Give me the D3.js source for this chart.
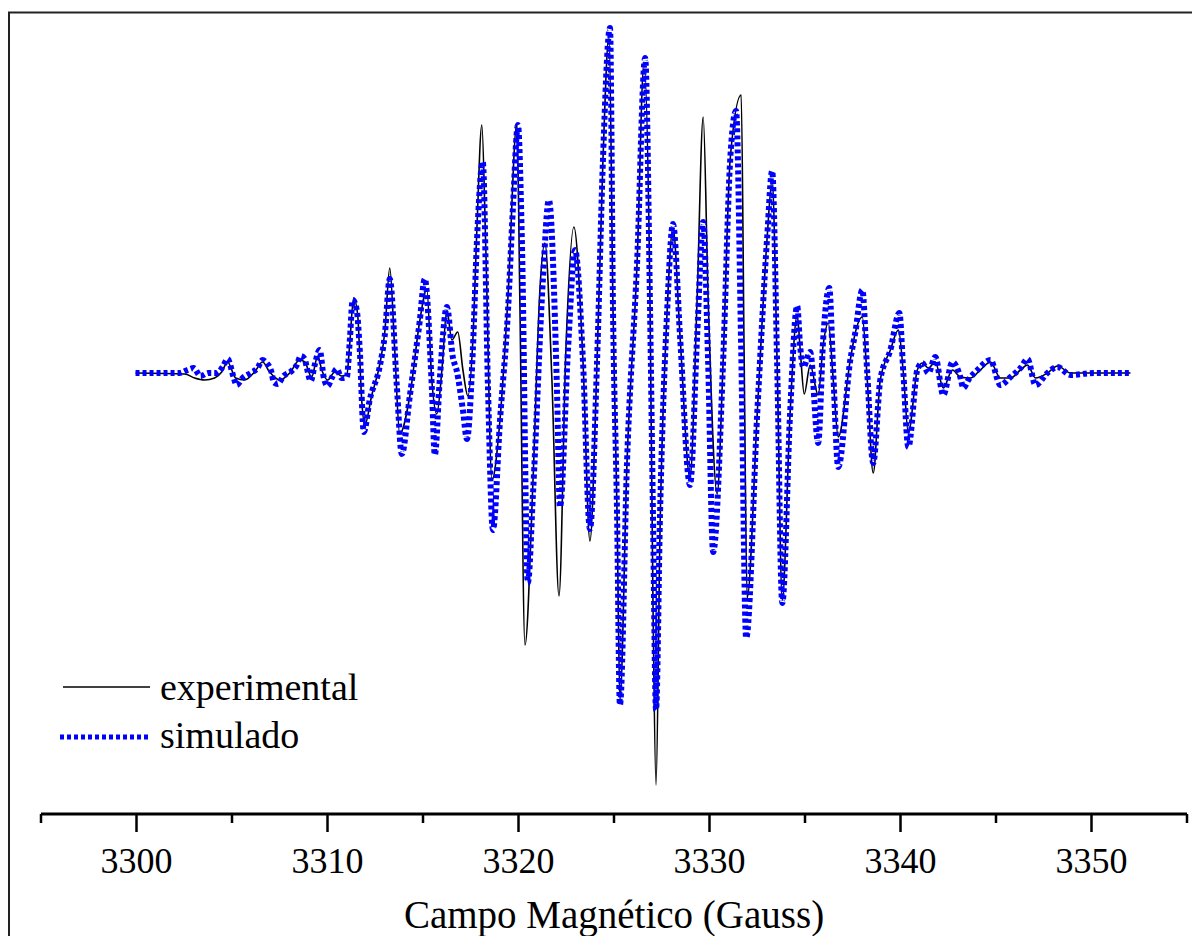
<!DOCTYPE html>
<html>
<head>
<meta charset="utf-8">
<script src="https://cdn.jsdelivr.net/npm/d3@7"></script>
<style>
  body { margin: 0; background: #fff; }
  svg { display: block; }
  text { font-family: "Liberation Serif", "Times New Roman", serif; fill: #000; }
</style>
</head>
<body>
<svg width="1192" height="936"></svg>
<script>
const svg = d3.select("svg");
const width = 1192;
const height = 936;

// field offsets from 3300 G, intensity in arbitrary units
const expField = [-0.05, 2.52, 3.04, 3.56, 4.09, 4.46, 4.77, 5.19, 5.66, 6.18, 6.60, 6.97, 7.50, 8.02, 8.54, 8.81,
    9.17, 9.49, 9.70, 10.01, 10.38, 10.74, 11.01, 11.16, 11.37, 11.58, 11.79, 11.95, 12.32, 12.74, 13.00, 13.26,
    13.52, 13.78, 14.31, 14.83, 15.20, 15.46, 15.72, 15.99, 16.25, 16.51, 16.82, 17.09, 17.35, 17.61, 17.82, 18.08,
    18.29, 18.61, 19.03, 19.44, 19.92, 20.07, 20.34, 20.76, 21.12, 21.38, 21.75, 22.12, 22.48, 22.90, 23.38, 23.74,
    24.11, 24.42, 24.74, 24.95, 25.16, 25.31, 25.68, 26.21, 26.57, 26.89, 27.04, 27.20, 27.41, 27.78, 28.09, 28.46,
    28.98, 29.35, 29.67, 29.93, 30.40, 30.71, 31.08, 31.66, 31.81, 31.97, 32.50, 33.02, 33.28, 33.54, 33.81, 34.22,
    34.59, 34.75, 34.96, 35.27, 35.69, 35.95, 36.22, 36.48, 36.74, 37.37, 37.63, 38.00, 38.26, 38.57, 38.94, 39.47,
    39.89, 40.15, 40.41, 40.88, 41.14, 41.46, 41.82, 42.24, 42.72, 43.13, 43.66, 44.18, 44.71, 45.23, 45.76, 46.28,
    46.65, 47.07, 47.69, 48.22, 48.90, 50.11, 52.04];
const expIntensity = [0, -0.1, -0.5, -0.7, -0.5, 0.1, 1.1, -0.5, -0.7, 0.1, 1.1, 0.1, -0.7, 0, 1.3, 1.1,
    -0.4, 1.7, 0.3, -0.7, 0.1, -0.3, -0.2, 2.8, 7.5, 5.8, -2.7, -5.2, -2.2, 0.9, 4.1, 10.5,
    2.3, -6.1, -2.3, 5.2, 8.4, -0.7, -4.1, 0.3, 6.3, 3.3, 4.1, 0.3, -2.3, 3.3, 14.3, 24.8,
    12.3, -10.7, -4.7, 7.3, 25.0, 7.3, -27.2, -10.7, 8.3, 13.0, -0.7, -22.3, 2.3, 14.6, 1.0, -16.8,
    1.0, 21.2, 33.8, 6.1, -14.1, -32.7, -9.0, 11.1, 31.1, 6.1, -22.7, -41.2, -15.7, 6.1, 14.5, 3.6,
    -10.5, 7.3, 25.6, 7.3, -12.1, 1.0, 21.3, 27.8, 2.3, -22.5, -4.0, 13.6, 19.3, 1.0, -22.7, -4.0,
    5.8, 2.3, -2.1, 0.8, -2.2, 2.8, 5.0, -0.7, -6.4, 1.3, 4.0, 5.6, -0.7, -10.0, -0.7, 2.3,
    4.3, 0, -6.0, 0.3, 1.0, 0.5, 1.1, -1.5, 0.3, -0.4, -0.5, 0.3, 1.1, -0.5, -0.5, 0.3,
    0.8, -0.5, 0, 0.7, 0, 0, 0];

const simField = [-0.05, 2.25, 2.67, 2.99, 3.35, 3.77, 4.19, 4.51, 4.77, 5.08, 5.24, 5.56, 5.98, 6.34, 6.60, 6.81,
    7.08, 7.18, 7.39, 7.70, 8.12, 8.39, 8.60, 8.81, 8.91, 9.12, 9.33, 9.59, 9.80, 10.01, 10.22, 10.48,
    10.74, 11.01, 11.16, 11.32, 11.53, 11.69, 11.90, 12.21, 12.74, 13.00, 13.26, 13.63, 13.89, 14.31, 14.83, 15.09,
    15.46, 15.62, 15.88, 16.25, 16.56, 16.77, 17.09, 17.30, 17.61, 17.82, 18.13, 18.40, 18.66, 19.03, 19.44, 19.71,
    19.97, 20.18, 20.49, 20.76, 21.28, 21.59, 22.01, 22.17, 22.59, 22.96, 23.38, 23.74, 24.11, 24.42, 24.79, 24.95,
    25.16, 25.31, 25.68, 26.21, 26.63, 26.89, 27.04, 27.20, 27.41, 27.78, 28.09, 28.46, 28.98, 29.35, 29.67, 29.93,
    30.19, 30.71, 31.08, 31.39, 31.66, 31.92, 32.50, 33.02, 33.28, 33.54, 33.81, 34.22, 34.59, 34.75, 34.91, 35.27,
    35.69, 35.95, 36.27, 36.48, 36.74, 37.37, 37.63, 38.00, 38.26, 38.57, 38.94, 39.47, 39.94, 40.15, 40.41, 40.88,
    41.14, 41.46, 41.82, 42.24, 42.72, 43.13, 43.29, 43.55, 44.03, 44.71, 45.23, 45.76, 46.28, 46.65, 47.07, 47.69,
    48.22, 48.90, 50.11, 52.04];
const simIntensity = [0, 0, 0.3, 0.5, -0.3, 0, 0, 0.6, 1.4, -0.4, -1.2, -0.5, 0, 0.5, 1.3, 1.0,
    0, -0.9, -1.1, -0.3, 0.2, 0.8, 1.7, 1.4, 0.6, -0.8, 0.8, 2.3, -0.4, -1.3, -0.5, 0.4,
    -0.5, -0.4, 3.0, 7.3, 6.3, 2.3, -5.9, -2.7, 0.7, 3.8, 9.4, -1.3, -8.1, -2.3, 5.2, 9.4,
    -1.3, -8.2, -0.6, 6.6, 1.6, 0.2, -3.7, -6.6, 2.3, 13.0, 21.1, -1.3, -15.7, -4.8, 5.9, 16.6,
    24.8, 13.0, -21.0, -12.0, 9.4, 17.3, -1.3, -13.4, 2.3, 12.3, 1.0, -15.6, 1.0, 21.2, 34.5, 6.1,
    -14.1, -33.2, -9.0, 11.1, 31.5, 6.1, -14.1, -33.7, -14.1, 6.1, 14.9, 3.6, -11.2, 3.6, 15.1, 1.0,
    -17.9, 1.0, 21.2, 26.2, 2.3, -26.5, -4.0, 13.6, 20.2, 1.0, -23.0, -4.0, 6.7, 2.6, 0.6, 2.1,
    -7.0, 3.3, 8.5, 0, -9.4, 1.3, 4.0, 8.3, 0, -9.0, -0.7, 2.3, 6.0, 0, -7.4, 0.3,
    1.0, 0, 1.6, -2.2, 1.1, -0.4, -1.5, -0.7, 0.3, 1.3, -1.2, -0.4, 0.5, 1.4, -1.2, 0,
    0.6, -0.2, 0, 0];

const majorTicks = [3300, 3310, 3320, 3330, 3340, 3350];
const minorTicks = [3295, 3305, 3315, 3325, 3335, 3345, 3355];

const x = d3.scaleLinear().domain([3295, 3355]).range([41, 1187]);
const y = d3.scaleLinear().domain([-42, 36]).range([793, 13]);

const expData = expField.map((f, i) => ({ b: 3300 + f, v: expIntensity[i] }));
const simData = simField.map((f, i) => ({ b: 3300 + f, v: simIntensity[i] }));

const line = d3.line()
    .x(d => x(d.b))
    .y(d => y(d.v))
    .curve(d3.curveMonotoneX);

// outer frame (top and left edges only)
svg.append("path")
    .attr("d", "M9,936V12.5H1192")
    .attr("fill", "none")
    .attr("stroke", "#222")
    .attr("stroke-width", 2);

// experimental
svg.append("path")
    .datum(expData)
    .attr("d", line)
    .attr("fill", "none")
    .attr("stroke", "#000")
    .attr("stroke-width", 1.6);

// simulado
svg.append("path")
    .datum(simData)
    .attr("d", line)
    .attr("fill", "none")
    .attr("stroke", "#0000ff")
    .attr("stroke-width", 6)
    .attr("stroke-dasharray", "4,3");

// x axis
const axisY = 814;
const gx = svg.append("g").attr("transform", "translate(0," + axisY + ")");
gx.append("line")
    .attr("x1", x(3295)).attr("x2", x(3355))
    .attr("stroke", "#000").attr("stroke-width", 3);
gx.selectAll("line.major")
    .data(majorTicks)
    .enter().append("line")
    .attr("class", "major")
    .attr("x1", d => x(d)).attr("x2", d => x(d))
    .attr("y1", 0).attr("y2", 18)
    .attr("stroke", "#000").attr("stroke-width", 2.5);
gx.selectAll("line.minor")
    .data(minorTicks)
    .enter().append("line")
    .attr("class", "minor")
    .attr("x1", d => x(d)).attr("x2", d => x(d))
    .attr("y1", 0).attr("y2", 9)
    .attr("stroke", "#000").attr("stroke-width", 2.5);
gx.selectAll("text")
    .data(majorTicks)
    .enter().append("text")
    .attr("x", d => x(d))
    .attr("y", 59)
    .attr("text-anchor", "middle")
    .style("font-size", "36px")
    .text(d => d);

svg.append("text")
    .attr("x", 614)
    .attr("y", 928)
    .attr("text-anchor", "middle")
    .style("font-size", "39px")
    .text("Campo Magnético (Gauss)");

// legend
const legend = svg.append("g");
legend.append("line")
    .attr("x1", 63).attr("x2", 150)
    .attr("y1", 687).attr("y2", 687)
    .attr("stroke", "#000").attr("stroke-width", 1.6);
legend.append("text")
    .attr("x", 160).attr("y", 700)
    .style("font-size", "38px")
    .text("experimental");
legend.append("line")
    .attr("x1", 60).attr("x2", 150)
    .attr("y1", 737).attr("y2", 737)
    .attr("stroke", "#0000ff").attr("stroke-width", 5)
    .attr("stroke-dasharray", "4,3");
legend.append("text")
    .attr("x", 160).attr("y", 748)
    .style("font-size", "38px")
    .text("simulado");
</script>
</body>
</html>
